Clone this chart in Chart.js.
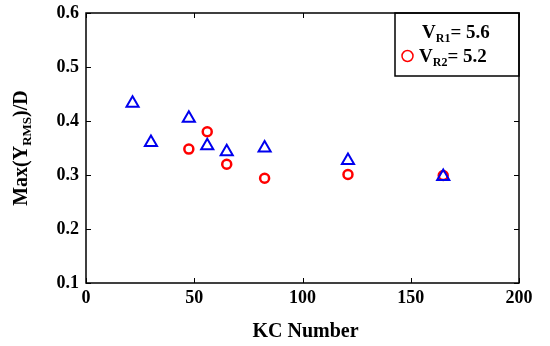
<!DOCTYPE html>
<html>
<head>
<meta charset="utf-8">
<script src="https://cdn.jsdelivr.net/npm/chart.js@4"></script>
<style>
    html, body { margin: 0; padding: 0; background: #fff; }
    #wrap { width: 550px; height: 346px; }
</style>
</head>
<body>
<div id="wrap"><canvas id="kcChart" width="550" height="346"></canvas></div>
<script>
// KC number vs max RMS amplitude, two reduced velocities
const kcTri = [21.5, 30, 47.5, 56, 65, 82.5, 121, 165];
const ampTri = [0.433, 0.36, 0.405, 0.354, 0.343, 0.35, 0.327, 0.297];
const kcCirc = [47.5, 56, 65, 82.5, 121, 165];
const ampCirc = [0.348, 0.38, 0.32, 0.294, 0.301, 0.299];
const xTicks = [0, 50, 100, 150, 200];
const yTicks = [0.1, 0.2, 0.3, 0.4, 0.5, 0.6];

const FONT = '"Liberation Serif", "Times New Roman", serif';

function toPoints(xs, ys) {
    return xs.map((x, i) => ({ x: x, y: ys[i] }));
}

// draw "main" + subscript + "rest" starting at x
function drawSubText(ctx, x, y, main, sub, rest, size) {
    ctx.font = 'bold ' + size + 'px ' + FONT;
    ctx.fillText(main, x, y);
    x += ctx.measureText(main).width;
    const subSize = Math.round(size * 0.65);
    ctx.font = 'bold ' + subSize + 'px ' + FONT;
    ctx.fillText(sub, x, y + size * 0.2);
    x += ctx.measureText(sub).width;
    ctx.font = 'bold ' + size + 'px ' + FONT;
    ctx.fillText(rest, x, y);
}

function subTextWidth(ctx, main, sub, rest, size) {
    ctx.font = 'bold ' + size + 'px ' + FONT;
    let w = ctx.measureText(main).width + ctx.measureText(rest).width;
    ctx.font = 'bold ' + Math.round(size * 0.65) + 'px ' + FONT;
    return w + ctx.measureText(sub).width;
}

const framePlugin = {
    id: 'frame',
    afterDraw(chart) {
        const ctx = chart.ctx;
        const a = chart.chartArea;
        const xs = chart.scales.x, ys = chart.scales.y;
        ctx.save();
        ctx.strokeStyle = '#000';
        ctx.lineWidth = 1;
        // inward ticks on all four sides
        ctx.beginPath();
        xTicks.forEach(v => {
            const px = Math.round(xs.getPixelForValue(v)) + 0.5;
            ctx.moveTo(px, a.bottom); ctx.lineTo(px, a.bottom - 5);
            ctx.moveTo(px, a.top); ctx.lineTo(px, a.top + 5);
        });
        yTicks.forEach(v => {
            const py = Math.round(ys.getPixelForValue(v)) + 0.5;
            ctx.moveTo(a.left, py); ctx.lineTo(a.left + 5, py);
            ctx.moveTo(a.right, py); ctx.lineTo(a.right - 5, py);
        });
        ctx.stroke();

        // legend box
        const lx = 395, ly = a.top, lw = a.right - 395, lh = 63;
        ctx.fillStyle = '#fff';
        ctx.fillRect(lx, ly, lw, lh);
        ctx.lineWidth = 1.5;
        ctx.strokeRect(lx, ly, lw, lh);
        ctx.fillStyle = '#000';
        ctx.textBaseline = 'alphabetic';
        drawSubText(ctx, 422, 38, 'V', 'R1', '= 5.6', 19);
        drawSubText(ctx, 419, 62, 'V', 'R2', '= 5.2', 19);
        ctx.strokeStyle = '#ff0000';
        ctx.lineWidth = 1.5;
        ctx.beginPath();
        ctx.arc(407.5, 56, 5.5, 0, Math.PI * 2);
        ctx.stroke();

        // outer frame
        ctx.strokeStyle = '#000';
        ctx.lineWidth = 1.5;
        ctx.strokeRect(a.left, a.top, a.right - a.left, a.bottom - a.top);

        // axis titles
        ctx.fillStyle = '#000';
        ctx.textAlign = 'left';
        ctx.font = 'bold 20px ' + FONT;
        const xt = 'KC Number';
        const xw = ctx.measureText(xt).width;
        ctx.fillText(xt, (a.left + a.right) / 2 - xw / 2 + 3, 337);

        ctx.translate(27, (a.top + a.bottom) / 2);
        ctx.rotate(-Math.PI / 2);
        const yw = subTextWidth(ctx, 'Max(Y', 'RMS', ')/D', 20);
        drawSubText(ctx, -yw / 2, 0, 'Max(Y', 'RMS', ')/D', 20);
        ctx.restore();
    }
};

function initKcChart() {
    const ctx = document.getElementById('kcChart');
    if (!ctx) return;
    new Chart(ctx.getContext('2d'), {
        type: 'scatter',
        data: {
            datasets: [{
                label: 'VR1 = 5.6',
                data: toPoints(kcTri, ampTri),
                pointStyle: 'triangle',
                pointRadius: 7,
                pointBorderWidth: 2,
                borderColor: '#0000ee',
                backgroundColor: 'rgba(0,0,0,0)'
            }, {
                label: 'VR2 = 5.2',
                data: toPoints(kcCirc, ampCirc),
                pointStyle: 'circle',
                pointRadius: 4.5,
                pointBorderWidth: 2.5,
                borderColor: '#ff0000',
                backgroundColor: 'rgba(0,0,0,0)'
            }]
        },
        options: {
            responsive: false,
            animation: false,
            layout: {
                padding: { top: 13, right: 31, left: 0, bottom: 0 }
            },
            plugins: {
                legend: { display: false },
                tooltip: { enabled: false }
            },
            scales: {
                x: {
                    type: 'linear',
                    min: 0,
                    max: 200,
                    afterFit: s => { s.height = 63; },
                    afterBuildTicks: s => { s.ticks = xTicks.map(v => ({ value: v })); },
                    grid: { display: false, drawTicks: false },
                    border: { display: false },
                    ticks: {
                        padding: 5,
                        color: '#000',
                        font: { family: FONT, size: 18, weight: 'bold' }
                    }
                },
                y: {
                    type: 'linear',
                    min: 0.1,
                    max: 0.6,
                    afterFit: s => { s.width = 86; },
                    afterBuildTicks: s => { s.ticks = yTicks.map(v => ({ value: v })); },
                    grid: { display: false, drawTicks: false },
                    border: { display: false },
                    ticks: {
                        padding: 7,
                        color: '#000',
                        font: { family: FONT, size: 18, weight: 'bold', lineHeight: 0.6 },
                        callback: v => v.toFixed(1)
                    }
                }
            }
        },
        plugins: [framePlugin]
    });
}

document.addEventListener('DOMContentLoaded', () => {
    initKcChart();
});
</script>
</body>
</html>
